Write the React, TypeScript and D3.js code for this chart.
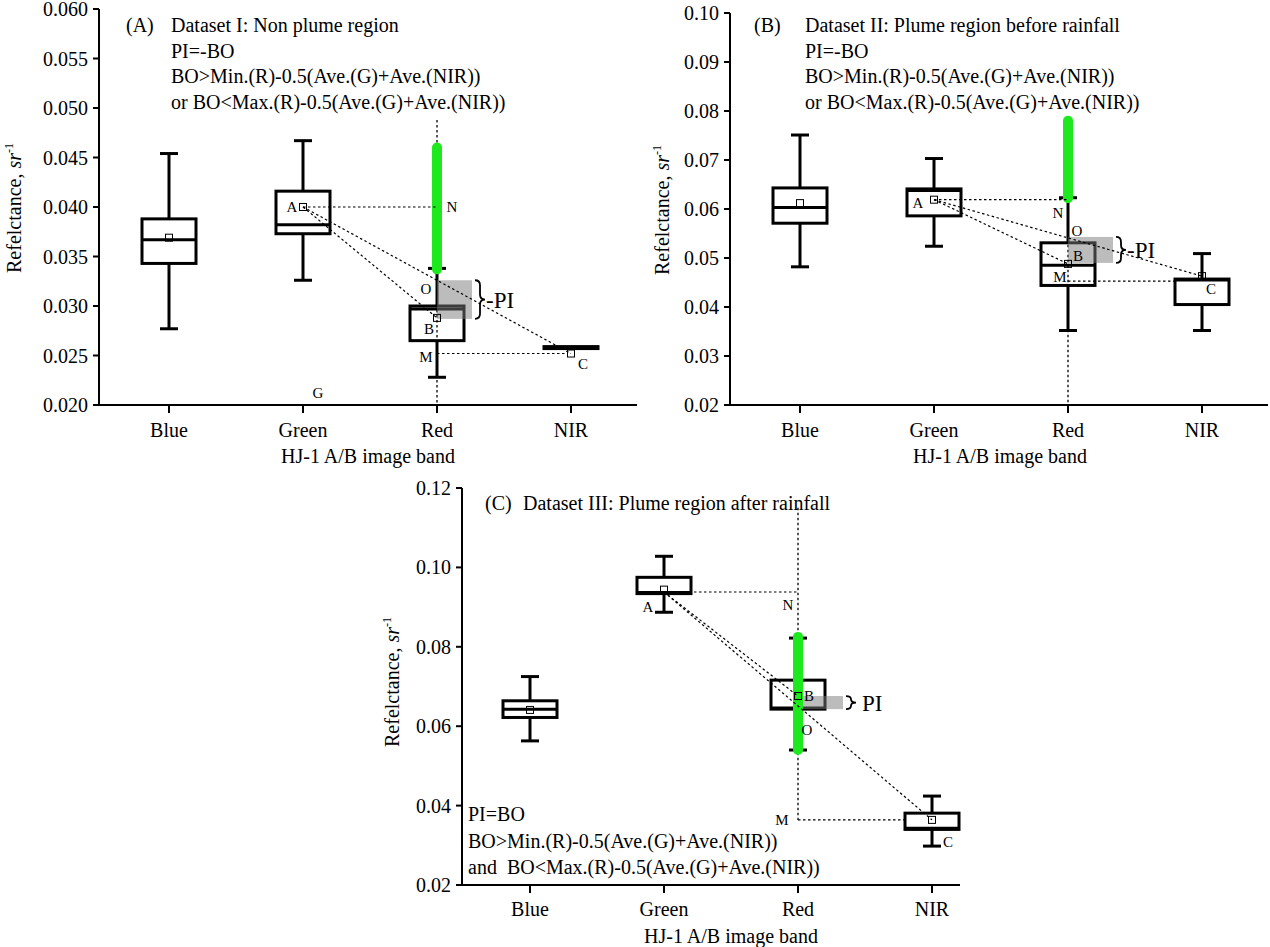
import React from "react";
import * as d3 from "d3";

const FONT = '"Liberation Serif", "Times New Roman", serif';
const bands = ["Blue", "Green", "Red", "NIR"];

// ---------- Panel A: Dataset I ----------
const aWhiskerLow = [0.0277, 0.0326, 0.0228, 0.0258];
const aQ1 = [0.0343, 0.0373, 0.0265, 0.0257];
const aMedian = [0.0367, 0.0382, 0.0297, 0.0258];
const aQ3 = [0.0388, 0.0416, 0.0300, 0.0259];
const aWhiskerHigh = [0.0454, 0.0467, 0.0338, 0.0258];
const aMean = [0.0369, 0.0400, 0.0288, 0.0252];
const aGreenBar = [0.0337, 0.0460];
const aPIBand = [0.0287, 0.0326];
const aLevels = [0.0400, 0.0252]; // N level (from A), M level (to C)
const aRedDotted = [0.0488, 0.020];
const aTicks = [0.020, 0.025, 0.030, 0.035, 0.040, 0.045, 0.050, 0.055, 0.060];
const aNotes = [
  "Dataset I: Non plume region",
  "PI=-BO",
  "BO>Min.(R)-0.5(Ave.(G)+Ave.(NIR))",
  "or BO<Max.(R)-0.5(Ave.(G)+Ave.(NIR))",
];

// ---------- Panel B: Dataset II ----------
const bWhiskerLow = [0.0482, 0.0524, 0.0352, 0.0352];
const bQ1 = [0.0571, 0.0586, 0.0444, 0.0405];
const bMedian = [0.0603, 0.0638, 0.0485, 0.0455];
const bQ3 = [0.0643, 0.0641, 0.0531, 0.0457];
const bWhiskerHigh = [0.0751, 0.0703, 0.0623, 0.0509];
const bMean = [0.0612, 0.0619, 0.0488, 0.0463];
const bGreenBar = [0.0622, 0.0780];
const bPIBand = [0.0490, 0.0543];
const bLevels = [0.0619, 0.0453];
const bRedDotted = [0.0619, 0.02];
const bTicks = [0.02, 0.03, 0.04, 0.05, 0.06, 0.07, 0.08, 0.09, 0.10];
const bNotes = [
  "Dataset II: Plume region before rainfall",
  "PI=-BO",
  "BO>Min.(R)-0.5(Ave.(G)+Ave.(NIR))",
  "or BO<Max.(R)-0.5(Ave.(G)+Ave.(NIR))",
];

// ---------- Panel C: Dataset III ----------
const cWhiskerLow = [0.0563, 0.0887, 0.0540, 0.0298];
const cQ1 = [0.0622, 0.0934, 0.0643, 0.0340];
const cMedian = [0.0643, 0.0937, 0.0646, 0.0343];
const cQ3 = [0.0664, 0.0975, 0.0716, 0.0381];
const cWhiskerHigh = [0.0725, 0.1028, 0.0822, 0.0424];
const cMean = [0.0641, 0.0944, 0.0676, 0.0364];
const cGreenBar = [0.0540, 0.0825];
const cPIBand = [0.0643, 0.0676];
const cLevels = [0.0938, 0.0364];
const cRedDotted = [0.1150, 0.0364];
const cTicks = [0.02, 0.04, 0.06, 0.08, 0.10, 0.12];
const cNotesBottom = [
  "PI=BO",
  "BO>Min.(R)-0.5(Ave.(G)+Ave.(NIR))",
  "and  BO<Max.(R)-0.5(Ave.(G)+Ave.(NIR))",
];

type Lbl = { t: string; band: number; v: number; dx: number };

const panels = [
  {
    key: "A",
    tag: "(A)",
    axisX: [99, 637],
    xPoints: [169, 571],
    yDomain: [0.02, 0.06],
    yRange: [405, 9],
    ticks: aTicks,
    fmt: ".3f",
    lo: aWhiskerLow, q1: aQ1, med: aMedian, q3: aQ3, hi: aWhiskerHigh, mean: aMean,
    green: aGreenBar, pi: aPIBand, levels: aLevels, redDot: aRedDotted,
    piW: 35, piText: "-PI", piDx: 49,
    mEnd: -6,
    tagX: 126, notesX: 171, notesY: 25, notes: aNotes,
    notesBottom: [] as string[],
    yLabel: [14, 208], xTitle: [368, 456], tickLabelY: 430,
    labels: [
      { t: "A", band: 1, v: 0.0400, dx: -11 },
      { t: "N", band: 2, v: 0.0400, dx: 15 },
      { t: "O", band: 2, v: 0.0317, dx: -11 },
      { t: "B", band: 2, v: 0.0277, dx: -8 },
      { t: "M", band: 2, v: 0.0249, dx: -11 },
      { t: "C", band: 3, v: 0.0242, dx: 12 },
      { t: "G", band: 1, v: 0.0212, dx: 15 },
    ] as Lbl[],
  },
  {
    key: "B",
    tag: "(B)",
    axisX: [730, 1268],
    xPoints: [800, 1202],
    yDomain: [0.02, 0.10],
    yRange: [405, 13],
    ticks: bTicks,
    fmt: ".2f",
    lo: bWhiskerLow, q1: bQ1, med: bMedian, q3: bQ3, hi: bWhiskerHigh, mean: bMean,
    green: bGreenBar, pi: bPIBand, levels: bLevels, redDot: bRedDotted,
    piW: 45, piText: "-PI", piDx: 59,
    mEnd: -27,
    tagX: 754, notesX: 805, notesY: 25, notes: bNotes,
    notesBottom: [] as string[],
    yLabel: [662, 210], xTitle: [1000, 456], tickLabelY: 430,
    labels: [
      { t: "A", band: 1, v: 0.0612, dx: -16 },
      { t: "N", band: 2, v: 0.0593, dx: -10 },
      { t: "O", band: 2, v: 0.0555, dx: 9 },
      { t: "B", band: 2, v: 0.0504, dx: 10 },
      { t: "M", band: 2, v: 0.0461, dx: -8 },
      { t: "C", band: 3, v: 0.0437, dx: 9 },
    ] as Lbl[],
  },
  {
    key: "C",
    tag: "(C)",
    axisX: [462, 960],
    xPoints: [530, 932],
    yDomain: [0.02, 0.12],
    yRange: [885, 488],
    ticks: cTicks,
    fmt: ".2f",
    lo: cWhiskerLow, q1: cQ1, med: cMedian, q3: cQ3, hi: cWhiskerHigh, mean: cMean,
    green: cGreenBar, pi: cPIBand, levels: cLevels, redDot: cRedDotted,
    piW: 45, piText: "PI", piDx: 64,
    mEnd: -27,
    tagX: 485, notesX: 523, notesY: 503, notes: ["Dataset III: Plume region after rainfall"],
    notesBottom: cNotesBottom,
    yLabel: [392, 682], xTitle: [731, 936], tickLabelY: 909,
    labels: [
      { t: "A", band: 1, v: 0.0900, dx: -16 },
      { t: "N", band: 2, v: 0.0905, dx: -10 },
      { t: "B", band: 2, v: 0.0676, dx: 11 },
      { t: "O", band: 2, v: 0.0590, dx: 9 },
      { t: "M", band: 2, v: 0.0364, dx: -16 },
      { t: "C", band: 3, v: 0.0308, dx: 16 },
    ] as Lbl[],
  },
];

function bracePath(x: number, y0: number, y1: number, w: number) {
  const m = (y0 + y1) / 2;
  const h = w / 2;
  const c = Math.min(h, (y1 - y0) / 4);
  return `M${x},${y0} Q${x + h},${y0} ${x + h},${y0 + c} L${x + h},${m - c} Q${x + h},${m} ${x + w},${m} Q${x + h},${m} ${x + h},${m + c} L${x + h},${y1 - c} Q${x + h},${y1} ${x},${y1}`;
}

function Panel({ p }: { p: (typeof panels)[number] }) {
  const x = d3.scalePoint<string>().domain(bands).range(p.xPoints as [number, number]);
  const y = d3.scaleLinear().domain(p.yDomain).range(p.yRange);
  const fmt = d3.format(p.fmt);
  const bw = 54;
  const cap = 18;
  const X = (i: number) => x(bands[i]) as number;
  const gx = X(1), rx = X(2), nx = X(3);
  const nLevel = p.levels[0];
  const mLevel = p.levels[1];
  const dash = "2.5,2.5";
  const yTop = p.yRange[1], yBot = p.yRange[0];

  return (
    <g>
      {/* axes */}
      <line x1={p.axisX[0]} x2={p.axisX[0]} y1={yTop} y2={yBot} stroke="#000" strokeWidth={2} />
      <line x1={p.axisX[0]} x2={p.axisX[1]} y1={yBot} y2={yBot} stroke="#000" strokeWidth={2} />
      {p.ticks.map((t) => (
        <g key={t}>
          <line x1={p.axisX[0] - 6} x2={p.axisX[0]} y1={y(t)} y2={y(t)} stroke="#000" strokeWidth={2} />
          <text x={p.axisX[0] - 11} y={y(t)} dy="0.35em" textAnchor="end" fontSize={20}>
            {fmt(t)}
          </text>
        </g>
      ))}
      {bands.map((b) => (
        <g key={b}>
          <line x1={x(b)} x2={x(b)} y1={yBot} y2={yBot + 8} stroke="#000" strokeWidth={2} />
          <text x={x(b)} y={p.tickLabelY} dy="0.35em" textAnchor="middle" fontSize={20}>
            {b}
          </text>
        </g>
      ))}
      <text x={p.xTitle[0]} y={p.xTitle[1]} dy="0.35em" textAnchor="middle" fontSize={20}>
        HJ-1 A/B image band
      </text>
      <text
        transform={`translate(${p.yLabel[0]},${p.yLabel[1]}) rotate(-90)`}
        dy="0.35em"
        textAnchor="middle"
        fontSize={20}
      >
        <tspan>Refelctance, </tspan>
        <tspan fontStyle="italic">sr</tspan>
        <tspan fontSize={12} dy={-8}>-1</tspan>
      </text>

      {/* whiskers */}
      {bands.map((b, i) => {
        const cx = X(i);
        return (
          <g key={"w" + b} stroke="#000" strokeWidth={3}>
            {p.hi[i] > p.q3[i] && (
              <>
                <line x1={cx} x2={cx} y1={y(p.q3[i])} y2={y(p.hi[i])} />
                <line x1={cx - cap / 2} x2={cx + cap / 2} y1={y(p.hi[i])} y2={y(p.hi[i])} />
              </>
            )}
            {p.lo[i] < p.q1[i] && (
              <>
                <line x1={cx} x2={cx} y1={y(p.q1[i])} y2={y(p.lo[i])} />
                <line x1={cx - cap / 2} x2={cx + cap / 2} y1={y(p.lo[i])} y2={y(p.lo[i])} />
              </>
            )}
          </g>
        );
      })}
      {/* boxes */}
      {bands.map((b, i) => {
        const cx = X(i);
        return (
          <g key={"b" + b}>
            <rect
              x={cx - bw / 2}
              y={y(p.q3[i])}
              width={bw}
              height={y(p.q1[i]) - y(p.q3[i])}
              fill="#fff"
              stroke="#000"
              strokeWidth={3}
            />
            <line x1={cx - bw / 2} x2={cx + bw / 2} y1={y(p.med[i])} y2={y(p.med[i])} stroke="#000" strokeWidth={3} />
          </g>
        );
      })}

      {/* vertical dotted guide on red band */}
      <line x1={rx} x2={rx} y1={y(p.redDot[0])} y2={y(p.redDot[1])} stroke="#000" strokeWidth={1.3} strokeDasharray={dash} />

      {/* PI gray band */}
      <rect
        x={rx}
        y={y(p.pi[1])}
        width={p.piW}
        height={y(p.pi[0]) - y(p.pi[1])}
        fill="#7a7a7a"
        opacity={0.5}
      />
      {/* green range bar */}
      <line x1={rx} x2={rx} y1={y(p.green[0])} y2={y(p.green[1])} stroke="#1ee81e" strokeWidth={10} strokeLinecap="round" />

      {/* dotted construction lines */}
      <g stroke="#000" strokeWidth={1.2} strokeDasharray={dash} fill="none">
        <line x1={gx} x2={rx} y1={y(nLevel)} y2={y(nLevel)} />
        <line x1={gx} x2={nx} y1={y(nLevel)} y2={y(p.mean[3])} />
        <line x1={gx} x2={rx} y1={y(nLevel)} y2={y(p.mean[2])} />
        <line x1={rx} x2={nx + p.mEnd} y1={y(mLevel)} y2={y(mLevel)} />
      </g>

      {/* brace + PI text */}
      <path
        d={bracePath(rx + p.piW + 3, y(p.pi[1]), y(p.pi[0]), 10)}
        fill="none"
        stroke="#000"
        strokeWidth={1.8}
      />
      <text x={rx + p.piDx} y={(y(p.pi[0]) + y(p.pi[1])) / 2} dy="0.35em" fontSize={23}>
        {p.piText}
      </text>

      {/* mean markers */}
      {bands.map((b, i) => (
        <rect
          key={"m" + b}
          x={X(i) - 3.5}
          y={y(p.mean[i]) - 3.5}
          width={7}
          height={7}
          fill="none"
          stroke="#000"
          strokeWidth={1}
        />
      ))}

      {/* point labels */}
      {p.labels.map((l) => (
        <text key={l.t} x={X(l.band) + l.dx} y={y(l.v)} dy="0.35em" textAnchor="middle" fontSize={15}>
          {l.t}
        </text>
      ))}

      {/* annotations */}
      <text x={p.tagX} y={p.notesY} dy="0.35em" fontSize={20}>
        {p.tag}
      </text>
      {p.notes.map((n, i) => (
        <text key={n} x={p.notesX} y={p.notesY + i * 25.5} dy="0.35em" fontSize={20}>
          {n}
        </text>
      ))}
      {p.notesBottom.map((n, i) => (
        <text
          key={n}
          x={p.axisX[0] + 6}
          y={814 + i * 26.5}
          dy="0.35em"
          fontSize={20}
          style={{ whiteSpace: "pre" }}
        >
          {n}
        </text>
      ))}
    </g>
  );
}

export default function App() {
  return (
    <div style={{ position: "absolute", left: 0, top: 0, background: "#fff" }}>
      <svg width={1270} height={947} fontFamily={FONT} style={{ display: "block", background: "#fff" }}>
        {panels.map((p) => (
          <Panel key={p.key} p={p} />
        ))}
      </svg>
    </div>
  );
}
